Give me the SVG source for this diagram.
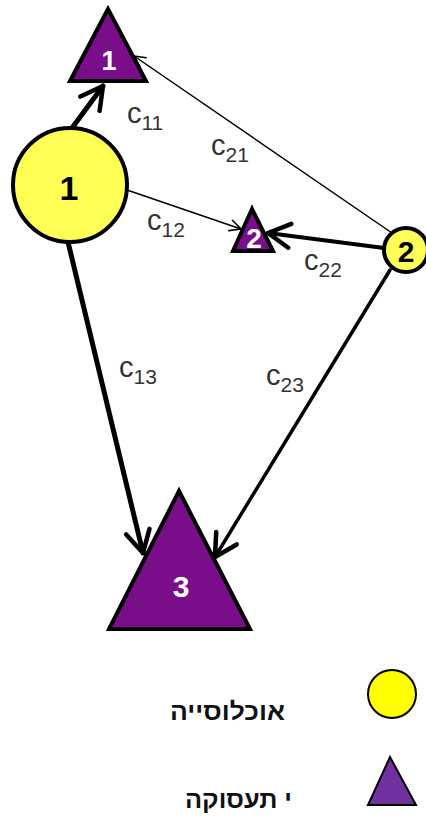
<svg xmlns="http://www.w3.org/2000/svg" width="426" height="817" viewBox="0 0 426 817">
<style>
.lbl{font-family:"Liberation Sans",Arial,sans-serif;fill:#333;font-size:29px}
.sub{font-size:21px}
.num{font-family:"Liberation Sans",Arial,sans-serif;font-weight:bold;text-anchor:middle}
.heb{font-family:"Liberation Sans","DejaVu Sans",sans-serif;font-weight:bold;font-size:24px;fill:#111}
.node-y{fill:#FFFF55;stroke:#000;stroke-width:4}
.node-p{fill:#7A0E8A;stroke:#000;stroke-width:4;stroke-linejoin:miter}
</style>
<defs>
<marker id="big" viewBox="-26 -16 30 32" markerWidth="30" markerHeight="32" refX="0" refY="0" orient="auto" markerUnits="userSpaceOnUse">
<path d="M-22,-12 L0,0 L-22,12" fill="none" stroke="#000" stroke-width="4.5" stroke-linecap="round" stroke-linejoin="round"/>
</marker>
<marker id="small" viewBox="-14 -8 16 16" markerWidth="16" markerHeight="16" refX="0" refY="0" orient="auto" markerUnits="userSpaceOnUse">
<path d="M-11,-5.5 L0,0 L-11,5.5" fill="none" stroke="#000" stroke-width="1.6" stroke-linecap="round"/>
</marker>
</defs>
<g id="connectors" stroke="#000" fill="none" stroke-linecap="round">
<line x1="72" y1="128" x2="103" y2="86" stroke-width="5" marker-end="url(#big)"/>
<line x1="392" y1="233" x2="134" y2="56" stroke-width="1.5" marker-end="url(#small)"/>
<line x1="127" y1="190" x2="241" y2="229" stroke-width="1.5" marker-end="url(#small)"/>
<line x1="384" y1="248" x2="268" y2="233" stroke-width="4" marker-end="url(#big)"/>
<line x1="68" y1="242" x2="143" y2="553" stroke-width="5" marker-end="url(#big)"/>
<line x1="390" y1="270" x2="215" y2="557" stroke-width="3.5" marker-end="url(#big)"/>
</g>
<g id="labels">
<text class="lbl" x="127" y="123">c<tspan class="sub" dy="7">11</tspan></text>
<text class="lbl" x="211" y="155">c<tspan class="sub" dy="7">21</tspan></text>
<text class="lbl" x="147" y="230">c<tspan class="sub" dy="7">12</tspan></text>
<text class="lbl" x="304" y="270">c<tspan class="sub" dy="7">22</tspan></text>
<text class="lbl" x="119" y="377">c<tspan class="sub" dy="7">13</tspan></text>
<text class="lbl" x="266" y="385">c<tspan class="sub" dy="7">23</tspan></text>
</g>
<g id="pop1">
<circle class="node-y" cx="70" cy="185" r="57"/>
<text class="num" x="69" y="200" font-size="34" fill="#000">1</text>
</g>
<g id="pop2">
<circle class="node-y" cx="406" cy="250" r="22" stroke-width="5"/>
<text class="num" x="406" y="262" font-size="30" fill="#000">2</text>
</g>
<g id="emp1">
<polygon class="node-p" points="108,9 70,81 146,81"/>
<text class="num" x="109" y="70" font-size="27" fill="#fff">1</text>
</g>
<g id="emp2">
<polygon class="node-p" points="252,209 233,251 273,251" stroke-width="3.5"/>
<text class="num" x="254" y="248" font-size="28" fill="#fff">2</text>
</g>
<g id="emp3">
<polygon class="node-p" points="179,491 109,629 250,629"/>
<text class="num" x="181" y="597" font-size="30" fill="#fff" font-weight="normal">3</text>
</g>
<g id="legend">
<circle cx="392" cy="694" r="24" fill="#FFFF00" stroke="#000" stroke-width="2"/>
<polygon points="390,757 368,805 416,805" fill="#7030A0" stroke="#000" stroke-width="2"/>
<text class="heb" x="285" y="720" text-anchor="end" textLength="115" lengthAdjust="spacingAndGlyphs">אוכלוסייה</text>
<text class="heb" x="292" y="808" text-anchor="end" textLength="107" lengthAdjust="spacingAndGlyphs">י תעסוקה</text>
</g>
</svg>
